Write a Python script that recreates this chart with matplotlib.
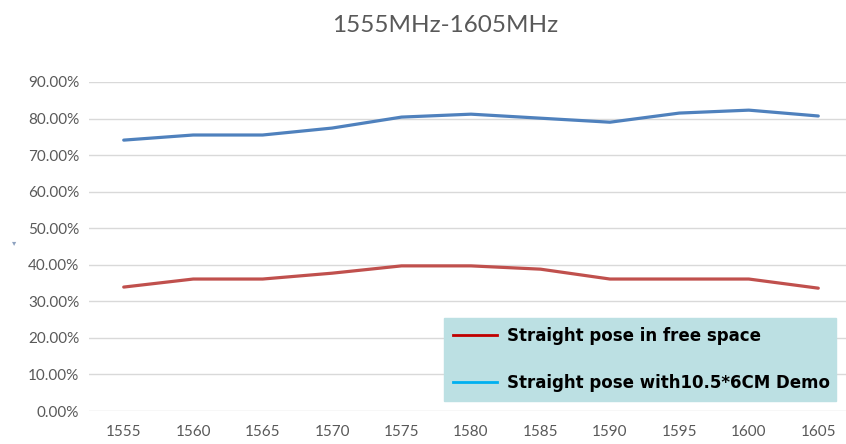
import matplotlib
matplotlib.use("Agg")
import matplotlib.pyplot as plt
from matplotlib.lines import Line2D
from matplotlib.ticker import PercentFormatter

freqs = ["1555", "1560", "1565", "1570", "1575", "1580", "1585", "1590", "1595", "1600", "1605"]
free_space = [0.339, 0.361, 0.361, 0.377, 0.397, 0.397, 0.388, 0.361, 0.361, 0.361, 0.336]
with_demo = [0.741, 0.755, 0.755, 0.774, 0.804, 0.812, 0.801, 0.790, 0.815, 0.823, 0.807]
legend_labels = ["Straight pose in free space", "Straight pose with10.5*6CM Demo"]

W, H = 846, 444
fig = plt.figure(figsize=(W / 100, H / 100), dpi=100)
fig.patch.set_facecolor("white")

# axes in pixel terms: x from 89 to 853, y from 411 (0%) up to 82 (90%)
ax = fig.add_axes([89 / W, (H - 411) / H, 764 / W, 329 / H])
x = list(range(len(freqs)))
ax.plot(x, free_space, color="#C0504D", lw=2.3, solid_capstyle="round")
ax.plot(x, with_demo, color="#4F81BD", lw=2.3, solid_capstyle="round")

ax.set_xlim(-0.5, len(freqs) - 0.5)
ax.set_ylim(0, 0.9)
ax.set_yticks([i / 10 for i in range(10)])
ax.yaxis.set_major_formatter(PercentFormatter(1.0, decimals=2))
ax.set_xticks(x)
ax.set_xticklabels(freqs)
ax.grid(axis="y", color="#D9D9D9", lw=1)
ax.set_axisbelow(True)
for s in ax.spines.values():
    s.set_visible(False)
ax.tick_params(length=0, labelsize=11, labelcolor="#595959")
ax.tick_params(axis="y", pad=7)
ax.tick_params(axis="x", pad=10)
for lab in ax.get_xticklabels() + ax.get_yticklabels():
    lab.set_fontfamily(["Lato", "DejaVu Sans"])

fig.text(445 / W, 1 - 32 / H, "1555MHz-1605MHz", ha="center", va="baseline",
         fontsize=17.5, color="#595959", family=["Lato", "DejaVu Sans"])
fig.text(14 / W, 1 - 243 / H, "\u25BE", ha="center", va="center", fontsize=6, color="#8EA2C0")

handles = [Line2D([], [], color="#C00000", lw=2),
           Line2D([], [], color="#00B0F0", lw=2)]
leg = fig.legend(handles, legend_labels, loc="lower left",
                 bbox_to_anchor=(444 / W, (H - 401) / H, 392 / W, 81 / H), mode="expand",
                 frameon=True, fancybox=False, facecolor="#BCE0E3", edgecolor="#BCE0E3",
                 framealpha=1, borderaxespad=0, handlelength=2.6, handletextpad=0.6,
                 labelspacing=1.75, borderpad=0.55,
                 prop={"family": "DejaVu Sans", "weight": "bold", "size": 12})
plt.savefig("out.png", dpi=100)
